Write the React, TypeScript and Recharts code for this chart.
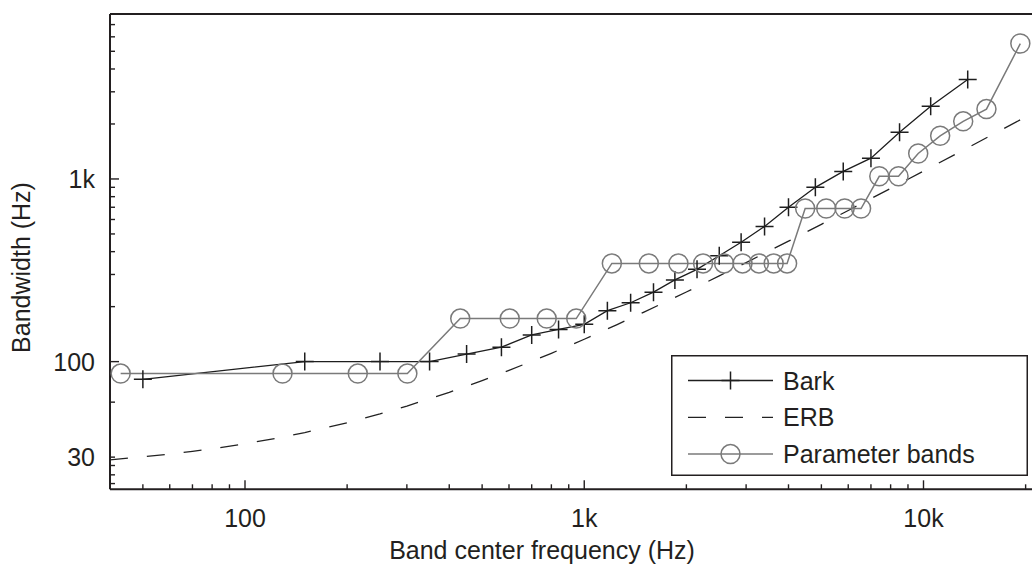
import React from 'react';
import { LineChart, Line, XAxis, YAxis, Legend, ReferenceLine } from 'recharts';

// ---- data ----
const barkFreq = [50, 150, 250, 350, 450, 570, 700, 840, 1000, 1170, 1370, 1600, 1850, 2150, 2500, 2900, 3400, 4000, 4800, 5800, 7000, 8500, 10500, 13500];
const barkBw = [80, 100, 100, 100, 110, 120, 140, 150, 160, 190, 210, 240, 280, 320, 380, 450, 550, 700, 900, 1100, 1300, 1800, 2500, 3500];

const erbFreq = [40, 50, 60, 70, 80, 100, 125, 150, 200, 250, 300, 400, 500, 600, 800, 1000, 1250, 1500, 2000, 2500, 3000, 4000, 5000, 6000, 8000, 10000, 12500, 15000, 20000, 22050];
const erbBw = [29.0, 30.1, 31.2, 32.3, 33.3, 35.5, 38.2, 40.9, 46.3, 51.7, 57.1, 67.9, 78.7, 89.5, 111.1, 132.6, 159.6, 186.6, 240.6, 294.6, 348.5, 456.5, 564.4, 672.3, 888.2, 1104, 1374, 1644, 2183, 2405];

const paramFreq = [43, 129, 215, 301, 431, 603, 775, 947, 1206, 1550, 1895, 2240, 2584, 2928, 3273, 3617, 3962, 4479, 5168, 5857, 6546, 7407, 8441, 9647, 11197, 13092, 15331, 19293];
const paramBw = [86, 86, 86, 86, 172, 172, 172, 172, 345, 345, 345, 345, 345, 345, 345, 345, 345, 689, 689, 689, 689, 1034, 1034, 1378, 1723, 2067, 2412, 5512];

const xMajorTicks = [100, 1000, 10000];
const xTickLabels = ['100', '1k', '10k'];
const xMinorTicks = [50, 60, 70, 80, 90, 200, 300, 400, 500, 600, 700, 800, 900, 2000, 3000, 4000, 5000, 6000, 7000, 8000, 9000, 20000];

const yLabelTicks = [30, 100, 1000];
const yTickLabels = ['30', '100', '1k'];
const yMajorTicks = [100, 1000];
const yMinorTicks = [21.5, 24, 27, 60, 200, 300, 400, 500, 600, 700, 800, 900, 2000, 3000, 4000, 5000, 6000, 7000, 8000];

const seriesNames = ['Bark', 'ERB', 'Parameter bands'];
const xTitle = 'Band center frequency (Hz)';
const yTitle = 'Bandwidth (Hz)';

const xDomain = [40, 22050];
const yDomain = [20, 8000];

const barkData = barkFreq.map((f, i) => ({ f, bw: barkBw[i] }));
const erbData = erbFreq.map((f, i) => ({ f, bw: erbBw[i] }));
const paramData = paramFreq.map((f, i) => ({ f, bw: paramBw[i] }));

// ---- layout / style ----
const W = 1060;
const H = 567;
const TOP = 14;
const LEFT = 110;
const X_AXIS_H = 77.7;
const BOTTOM = H - X_AXIS_H;
const FONT = '"Liberation Sans", Arial, Helvetica, sans-serif';
const FS = 25;
const INK = '#231f20';
const BARK_C = '#1e1e1e';
const ERB_C = '#222222';
const PARAM_C = '#7a7a7a';

const allX = [...xMajorTicks, ...xMinorTicks].sort((a, b) => a - b);
const allY = [...yMinorTicks, ...yLabelTicks].filter((v, i, a) => a.indexOf(v) === i).sort((a, b) => a - b);

const BottomTick = (props: any) => {
  const { x, payload } = props;
  const v = payload.value;
  const mi = xMajorTicks.indexOf(v);
  const len = mi >= 0 ? 9 : 5;
  return (
    <g>
      <line x1={x} x2={x} y1={BOTTOM} y2={BOTTOM - len} stroke={INK} strokeWidth={1.4} />
      {mi >= 0 && (
        <text x={x} y={527} textAnchor="middle" fontSize={FS} fontFamily={FONT} fill={INK}>
          {xTickLabels[mi]}
        </text>
      )}
    </g>
  );
};

const TopTick = (props: any) => {
  const { x, payload } = props;
  const len = xMajorTicks.indexOf(payload.value) >= 0 ? 9 : 5;
  return <line x1={x} x2={x} y1={TOP} y2={TOP + len} stroke={INK} strokeWidth={1.4} />;
};

const LeftTick = (props: any) => {
  const { y, payload } = props;
  const v = payload.value;
  const li = yLabelTicks.indexOf(v);
  const len = yMajorTicks.indexOf(v) >= 0 ? 9 : 5;
  return (
    <g>
      <line x1={LEFT} x2={LEFT + len} y1={y} y2={y} stroke={INK} strokeWidth={1.4} />
      {li >= 0 && (
        <text x={95} y={y + 9} textAnchor="end" fontSize={FS} fontFamily={FONT} fill={INK}>
          {yTickLabels[li]}
        </text>
      )}
    </g>
  );
};

const PlusDot = (p: any) => {
  if (p.cx == null || p.cy == null) return <g key={p.key} />;
  return (
    <path
      key={p.key}
      d={`M${p.cx - 9},${p.cy}h18M${p.cx},${p.cy - 9}v18`}
      stroke={BARK_C}
      strokeWidth={1.5}
      fill="none"
    />
  );
};

const CircleDot = (p: any) => {
  if (p.cx == null || p.cy == null) return <g key={p.key} />;
  return <circle key={p.key} cx={p.cx} cy={p.cy} r={9.5} fill="none" stroke={PARAM_C} strokeWidth={1.5} />;
};

const renderLegend = (props: any) => {
  const payload = props.payload || [];
  return (
    <svg width={357} height={121} style={{ display: 'block' }}>
      <rect x={0.75} y={0.75} width={355.5} height={119.5} fill="#fff" stroke={INK} strokeWidth={1.5} />
      {payload.map((entry: any, i: number) => {
        const cy = 25.5 + i * 36.8;
        const name = entry.value;
        const x1 = 17;
        const x2 = 102;
        const mx = (x1 + x2) / 2;
        let sample: any = null;
        if (name === seriesNames[0]) {
          sample = (
            <g>
              <line x1={x1} x2={x2} y1={cy} y2={cy} stroke={BARK_C} strokeWidth={1.3} />
              <path d={`M${mx - 9},${cy}h18M${mx},${cy - 9}v18`} stroke={BARK_C} strokeWidth={1.5} />
            </g>
          );
        } else if (name === seriesNames[1]) {
          sample = <line x1={x1} x2={x2} y1={cy} y2={cy} stroke={ERB_C} strokeWidth={1.3} strokeDasharray="18 19" />;
        } else {
          sample = (
            <g>
              <line x1={x1} x2={x2} y1={cy} y2={cy} stroke={PARAM_C} strokeWidth={1.5} />
              <circle cx={mx} cy={cy} r={9.5} fill="none" stroke={PARAM_C} strokeWidth={1.5} />
            </g>
          );
        }
        return (
          <g key={name}>
            {sample}
            <text x={112} y={cy + 9} fontSize={FS} fontFamily={FONT} fill={INK}>
              {name}
            </text>
          </g>
        );
      })}
    </svg>
  );
};

const Titles = () => (
  <g>
    <text x={542} y={559} textAnchor="middle" fontSize={FS} fontFamily={FONT} fill={INK}>
      {xTitle}
    </text>
    <text
      x={30}
      y={267.5}
      textAnchor="middle"
      fontSize={FS}
      fontFamily={FONT}
      fill={INK}
      transform="rotate(-90, 30, 267.5)"
    >
      {yTitle}
    </text>
  </g>
);

export default function App() {
  return (
    <div style={{ position: 'fixed', left: 0, top: 0, width: 1032, height: 567, overflow: 'hidden', background: '#fff' }}>
      <LineChart width={W} height={H} margin={{ top: TOP, right: 20, bottom: 0, left: 0 }}>
        <XAxis
          xAxisId="0"
          dataKey="f"
          type="number"
          scale="log"
          domain={xDomain}
          allowDataOverflow
          ticks={allX}
          interval={0}
          tick={<BottomTick />}
          tickLine={false}
          height={X_AXIS_H}
          axisLine={{ stroke: INK, strokeWidth: 2 }}
        />
        <XAxis
          xAxisId="top"
          orientation="top"
          dataKey="f"
          type="number"
          scale="log"
          domain={xDomain}
          allowDataOverflow
          ticks={allX}
          interval={0}
          tick={<TopTick />}
          tickLine={false}
          height={0}
          axisLine={false}
        />
        <YAxis
          yAxisId="0"
          type="number"
          scale="log"
          domain={yDomain}
          allowDataOverflow
          ticks={allY}
          interval={0}
          tick={<LeftTick />}
          tickLine={false}
          width={LEFT}
          axisLine={{ stroke: INK, strokeWidth: 2 }}
        />
        <ReferenceLine xAxisId="0" yAxisId="0" y={yDomain[1]} stroke={INK} strokeWidth={2} ifOverflow="extendDomain" />
        <Legend
          layout="horizontal"
          verticalAlign="middle"
          align="center"
          content={renderLegend}
          wrapperStyle={{ position: 'absolute', left: 670.5, top: 355, width: 357, height: 121 }}
        />
        <Line
          xAxisId="0"
          yAxisId="0"
          name={seriesNames[0]}
          data={barkData}
          dataKey="bw"
          type="linear"
          stroke={BARK_C}
          strokeWidth={1.3}
          dot={PlusDot}
          isAnimationActive={false}
        />
        <Line
          xAxisId="0"
          yAxisId="0"
          name={seriesNames[1]}
          data={erbData}
          dataKey="bw"
          type="linear"
          stroke={ERB_C}
          strokeWidth={1.3}
          strokeDasharray="18 19"
          dot={false}
          isAnimationActive={false}
        />
        <Line
          xAxisId="0"
          yAxisId="0"
          name={seriesNames[2]}
          data={paramData}
          dataKey="bw"
          type="linear"
          stroke={PARAM_C}
          strokeWidth={1.5}
          dot={CircleDot}
          isAnimationActive={false}
        />
        <Titles />
      </LineChart>
    </div>
  );
}
